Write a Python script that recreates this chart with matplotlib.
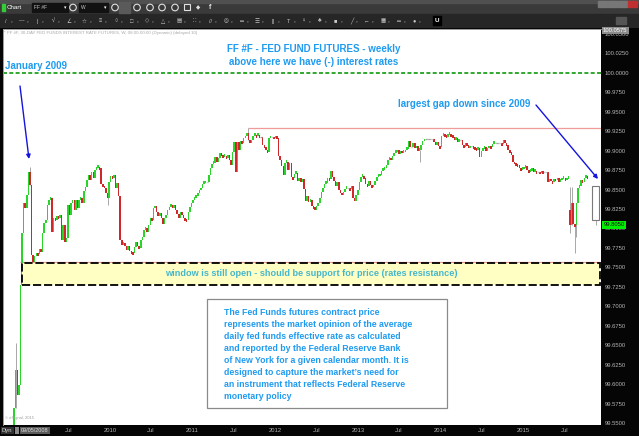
import numpy as np
import pandas as pd
import matplotlib
matplotlib.use("Agg")
import matplotlib.pyplot as plt
import matplotlib.dates as mdates
import matplotlib.transforms as mtrans
from matplotlib.patches import Rectangle, Circle

plt.rcParams["font.family"] = ["Liberation Sans", "DejaVu Sans"]

W, H = 639, 436

# weekly closes, FF #F continuous contract
FIRST_WEEK = "2008-11-03"
FIRST_OPEN = 99.547
CLOSES = [
    99.569, 99.618, 99.586, 99.599, 99.727, 99.794, 99.833, 99.826, 99.843, 99.873,
    99.856, 99.766, 99.757, 99.765, 99.768, 99.767, 99.774, 99.770, 99.794, 99.807,
    99.811, 99.830, 99.837, 99.839, 99.795, 99.813, 99.811, 99.816, 99.813, 99.817,
    99.785, 99.804, 99.783, 99.788, 99.830, 99.817, 99.833, 99.837, 99.824, 99.837,
    99.826, 99.837, 99.839, 99.833, 99.848, 99.853, 99.862, 99.869, 99.862, 99.873,
    99.865, 99.875, 99.878, 99.879, 99.878, 99.857, 99.855, 99.852, 99.846, 99.839,
    99.860, 99.867, 99.865, 99.869, 99.852, 99.858, 99.842, 99.785, 99.779, 99.781,
    99.777, 99.772, 99.777, 99.771, 99.770, 99.768, 99.776, 99.783, 99.777, 99.775,
    99.785, 99.789, 99.798, 99.801, 99.795, 99.804, 99.813, 99.811, 99.826, 99.829,
    99.821, 99.816, 99.820, 99.813, 99.806, 99.813, 99.817, 99.824, 99.828, 99.830,
    99.826, 99.830, 99.824, 99.819, 99.813, 99.821, 99.817, 99.813, 99.812, 99.811,
    99.821, 99.828, 99.833, 99.837, 99.839, 99.842, 99.846, 99.849, 99.852, 99.857,
    99.858, 99.860, 99.860, 99.869, 99.878, 99.883, 99.884, 99.892, 99.885, 99.891,
    99.897, 99.894, 99.892, 99.893, 99.891, 99.894, 99.888, 99.882, 99.898, 99.911,
    99.873, 99.911, 99.901, 99.912, 99.910, 99.916, 99.919, 99.923, 99.914, 99.910,
    99.914, 99.919, 99.920, 99.919, 99.920, 99.918, 99.918, 99.907, 99.905, 99.901,
    99.898, 99.916, 99.918, 99.918, 99.916, 99.919, 99.916, 99.893, 99.888, 99.880,
    99.869, 99.884, 99.885, 99.875, 99.884, 99.866, 99.865, 99.870, 99.871, 99.861,
    99.865, 99.860, 99.864, 99.851, 99.835, 99.842, 99.834, 99.837, 99.829, 99.828,
    99.824, 99.829, 99.833, 99.839, 99.847, 99.852, 99.857, 99.858, 99.865, 99.864,
    99.874, 99.866, 99.861, 99.855, 99.860, 99.849, 99.846, 99.843, 99.847, 99.851,
    99.852, 99.852, 99.851, 99.855, 99.839, 99.835, 99.843, 99.849, 99.860, 99.866,
    99.867, 99.865, 99.857, 99.855, 99.861, 99.856, 99.853, 99.856, 99.861, 99.866,
    99.867, 99.869, 99.874, 99.875, 99.878, 99.882, 99.888, 99.891, 99.888, 99.893,
    99.897, 99.898, 99.901, 99.896, 99.900, 99.897, 99.898, 99.901, 99.902, 99.912,
    99.905, 99.905, 99.910, 99.903, 99.906, 99.900, 99.901, 99.907, 99.912, 99.915,
    99.915, 99.915, 99.915, 99.915, 99.915, 99.911, 99.907, 99.911, 99.906, 99.905,
    99.919, 99.921, 99.920, 99.918, 99.920, 99.921, 99.920, 99.918, 99.914, 99.916,
    99.911, 99.914, 99.914, 99.907, 99.905, 99.910, 99.907, 99.903, 99.906, 99.906,
    99.905, 99.903, 99.901, 99.903, 99.892, 99.900, 99.902, 99.905, 99.900, 99.903,
    99.906, 99.905, 99.909, 99.910, 99.910, 99.910, 99.910, 99.910, 99.909, 99.914,
    99.910, 99.907, 99.901, 99.898, 99.894, 99.886, 99.884, 99.883, 99.882, 99.878,
    99.875, 99.876, 99.878, 99.880, 99.875, 99.873, 99.874, 99.878, 99.873, 99.874,
    99.873, 99.873, 99.871, 99.874, 99.873, 99.873, 99.873, 99.860, 99.864, 99.861,
    99.860, 99.864, 99.862, 99.865, 99.860, 99.862, 99.864, 99.865, 99.862, 99.864,
    99.865, 99.804, 99.833, 99.806, 99.805, 99.833, 99.852, 99.855, 99.862, 99.860,
    99.865, 99.867, 99.866,
]
GAP_OPENS = {351: 99.824}          # the Aug 2015 gap down
WICKS = {1: (99.653, None), 10: (99.879, None), 59: (None, 99.830),
         148: (99.929, None), 256: (None, 99.885), 351: (99.853, 99.794),
         352: (99.853, None), 354: (None, 99.768), 355: (None, 99.789)}
LAST_BAR_DATES = ("2015-11-02", "2015-12-03")
LAST_BAR = (99.811, 99.855, 99.804)   # body low, body high, wick low
LAST_PRICE = 99.805
WINDOW = (99.727, 99.756)
ZERO_RATE = 100.0

YTICKS = np.arange(99.55, 100.0501, 0.025)
XTICKS = ["2009-07-01", "2010-01-01", "2010-07-01", "2011-01-01", "2011-07-01",
          "2012-01-01", "2012-07-01", "2013-01-01", "2013-07-01", "2014-01-01",
          "2014-07-01", "2015-01-01", "2015-07-01"]
XLIM = ("2008-09-15", "2015-12-11")
YLIM = (99.5474, 100.0564)

NOTE = ["The Fed Funds futures contract price",
        "represents the market opinion of the average",
        "daily fed funds effective rate as calculated",
        "and reported by the Federal Reserve Bank",
        "of New York for a given calendar month. It is",
        "designed to capture the market\u2019s need for",
        "an instrument that reflects Federal Reserve",
        "monetary policy"]

BLUE = "#1f9bf0"
ARROW = "#1414e0"
GREEN = "#2bd42b"
RED = "#d02828"


def fx(x):
    return x / W


def fy(y):
    return 1 - y / H


fig = plt.figure(figsize=(W / 100, H / 100), dpi=100, facecolor="#050505")

# ---- toolbar -------------------------------------------------------------
tb = fig.add_axes([0, fy(28), 1, 28 / H])
tb.set_xlim(0, W)
tb.set_ylim(28, 0)
tb.axis("off")
tb.add_patch(Rectangle((0, 0), W, 14, color="#3a3a3a"))
tb.add_patch(Rectangle((0, 0), W, 3, color="#505050"))
tb.add_patch(Rectangle((0, 14), W, 14, color="#262626"))
tb.add_patch(Rectangle((2, 4), 2.5, 7, color="#33cc33"))
tb.text(7, 7.5, "Chart", color="white", fontsize=4.5, va="center")
for x0, w, s in [(32, 36, "FF #F"), (79, 29, "W")]:
    tb.add_patch(Rectangle((x0, 3), w, 9, color="#121212"))
    tb.text(x0 + 2, 7.5, s, color="#cccccc", fontsize=3.5, va="center")
    tb.text(x0 + w - 4, 7.5, "\u25be", color="white", fontsize=3.5, va="center")
tb.add_patch(Rectangle((119, 2), 11, 11, color="#5a5a5a"))
for cx in [73, 115, 137, 150, 162, 175]:
    tb.add_patch(Circle((cx, 7.5), 3.3, fill=False, ec="#e0e0e0", lw=0.8))
tb.add_patch(Rectangle((184, 4), 6, 6, fill=False, ec="#e0e0e0", lw=0.8))
tb.text(198, 7.5, "\u25c6", color="#e0e0e0", fontsize=4, va="center", ha="center")
tb.text(210, 7.5, "f", color="#e0e0e0", fontsize=5, va="center", ha="center",
        weight="bold")
icons = ["/", "\u2014", "|", "\u221a", "\u2220", "\u2606", "\u2261", "\u25cb", "\u25a1",
         "\u25c7", "\u25b3", "\u25a4", "\u2237", "//", "\u25ce", "\u2550", "\u2630",
         "||", "T", "\u2640", "\u2663", "\u25a0", "\u2571", "\u2190", "\u25a6", "\u2550",
         "\u25cf"]
for i, s in enumerate(icons):
    tb.text(6 + i * 15.7, 21, s, color="#c8c8c8", fontsize=4, va="center", ha="center")
    tb.text(11 + i * 15.7, 22.5, "\u25be", color="#888888", fontsize=2.5, va="center")
tb.add_patch(Rectangle((433, 16), 8, 9, color="black"))
tb.text(437, 20.5, "U", color="white", fontsize=4.5, va="center", ha="center",
        weight="bold")
for i, c in enumerate(["#777777", "#777777", "#777777", "#c03030"]):
    tb.add_patch(Rectangle((598 + i * 10, 1), 8.5, 6.5, color=c))
tb.add_patch(Rectangle((616, 17), 10, 7, color="#555555"))

# ---- price chart ---------------------------------------------------------
ax = fig.add_axes([fx(3), fy(425), 598 / W, 396 / H], facecolor="white")
dates = pd.date_range(FIRST_WEEK, periods=len(CLOSES), freq="7D")
xd = mdates.date2num(dates.to_pydatetime())
closes = np.array(CLOSES)
opens = np.r_[FIRST_OPEN, closes[:-1]]
for k, v in GAP_OPENS.items():
    opens[k] = v
body = closes - opens
doji = np.abs(body) < 0.0005
hgt = np.sign(body) * np.maximum(np.abs(body), 0.0035)

for k, (hi, lo) in WICKS.items():
    top = hi if hi is not None else max(opens[k], closes[k])
    bot = lo if lo is not None else min(opens[k], closes[k])
    ax.vlines(xd[k], bot, top, color="#9a9a9a", lw=0.6, zorder=2)

up = (body > 0) & ~doji
dn = (body < 0) & ~doji
ax.bar(xd[up], hgt[up], bottom=opens[up], width=6.6, color=GREEN, lw=0, zorder=3)
ax.bar(xd[dn], hgt[dn], bottom=opens[dn], width=6.6, color=RED, lw=0, zorder=3)
ax.hlines(closes[doji], xd[doji] - 3, xd[doji] + 3, color="#a0a0a0", lw=0.9, zorder=3)

# current (incomplete) bar, drawn hollow
lb0, lb1 = mdates.date2num(pd.to_datetime(list(LAST_BAR_DATES)).to_pydatetime())
ax.vlines((lb0 + lb1) / 2, LAST_BAR[2], LAST_BAR[0], color="#9a9a9a", lw=0.6)
ax.add_patch(Rectangle((lb0, LAST_BAR[0]), lb1 - lb0, LAST_BAR[1] - LAST_BAR[0],
                       fc="white", ec="#7a7a7a", lw=0.8, zorder=3))

# levels
ax.axhline(ZERO_RATE, color="#1fa01f", lw=1.3, ls=(0, (2.2, 1.3)), zorder=2)
top_high = WICKS[148][0]
ax.hlines(top_high, xd[148], xd[-1] + 60, color="#f09a9a", lw=0.9, zorder=1)
low_close = min(CLOSES[5:])
ax.hlines(low_close, xd[4], xd[-1] + 60, color="#f09a9a", lw=0.9, zorder=1)
blend = mtrans.blended_transform_factory(ax.transAxes, ax.transData)
ax.add_patch(Rectangle((19 / 598, WINDOW[0]), 578 / 598, WINDOW[1] - WINDOW[0],
                       transform=blend, fc="#ffffc4", ec="black", lw=1.3,
                       ls=(0, (4.5, 1.6)), zorder=4))

ax.set_xlim(*mdates.date2num(pd.to_datetime(list(XLIM)).to_pydatetime()))
ax.set_ylim(*YLIM)
ax.yaxis.tick_right()
ax.set_yticks(YTICKS)
ax.set_yticklabels([f"{v:.4f}" for v in YTICKS])
xt = pd.to_datetime(XTICKS)
ax.set_xticks(mdates.date2num(xt.to_pydatetime()))
ax.set_xticklabels(["Jul" if d.month == 7 else str(d.year) for d in xt])
ax.tick_params(axis="both", length=0, labelsize=4.2, labelcolor="#b4b4b4")
ax.tick_params(axis="y", pad=2.5)
ax.tick_params(axis="x", pad=2.2)
for s in ["right", "bottom"]:
    ax.spines[s].set_visible(False)
for s in ["left", "top"]:
    ax.spines[s].set_color("#9a9a9a")
    ax.spines[s].set_linestyle((0, (1, 1)))
    ax.spines[s].set_linewidth(0.7)

# right-scale markers
ax.text(1.004, LAST_PRICE, f"{LAST_PRICE:.4f}", transform=blend, fontsize=4.2,
        va="center", ha="left", color="#111111",
        bbox=dict(boxstyle="square,pad=0.25", fc="#00ee00", ec="none"))
fig.text(fx(603), fy(30.5), "100.0575", fontsize=4.2, va="center", color="white",
         bbox=dict(boxstyle="square,pad=0.2", fc="#8c8c8c", ec="none"))

# bottom bar bits
fig.text(fx(2), fy(430.5), "Dyn", fontsize=4.2, va="center", color="#dddddd",
         bbox=dict(boxstyle="square,pad=0.2", fc="#303030", ec="none"))
fig.add_artist(Rectangle((fx(14.5), fy(434)), 4.5 / W, 7 / H, fc="#8a8a8a", ec="none"))
fig.text(fx(21), fy(430.5), "09/05/2008", fontsize=4.0, va="center", color="#dddddd",
         bbox=dict(boxstyle="square,pad=0.2", fc="#5a5a5a", ec="none"))

# header and copyright
fig.text(fx(4), fy(33), "* FF #F, 30-DAY FED FUNDS INTEREST RATE FUTURES, W, "
         "08:00-00:00 (Dynamic) (delayed 10)", fontsize=3.2, color="#a8a8a8",
         va="center")
fig.text(fx(5), fy(418), "\u00a9 eSignal, 2015", fontsize=3.0, color="#a0a0a0",
         va="center")

# annotations
fig.text(fx(314), fy(49), "FF #F - FED FUND FUTURES - weekly", fontsize=7,
         weight="bold", color=BLUE, ha="center", va="center")
fig.text(fx(314), fy(62), "above here we have (-) interest rates", fontsize=7,
         weight="bold", color=BLUE, ha="center", va="center")
fig.text(fx(5), fy(66), "January 2009", fontsize=7, weight="bold", color=BLUE,
         va="center")
fig.text(fx(398), fy(104), "largest gap down since 2009", fontsize=7,
         weight="bold", color=BLUE, va="center")
fig.text(fx(311), fy(274), "window is still open - should be support for price "
         "(rates resistance)", fontsize=6.6, weight="bold", color="#45b7cc",
         ha="center", va="center", zorder=6)

arrow = dict(arrowstyle="-|>", color=ARROW, lw=1.0, mutation_scale=6,
             shrinkA=0, shrinkB=0)
ax.annotate("", xy=(fx(29), fy(159)), xytext=(fx(20), fy(86)),
            xycoords="figure fraction", textcoords="figure fraction",
            arrowprops=arrow, zorder=6)
ax.annotate("", xy=(fx(598), fy(179)), xytext=(fx(536), fy(105)),
            xycoords="figure fraction", textcoords="figure fraction",
            arrowprops=arrow, zorder=6)

# explanatory note box
fig.add_artist(Rectangle((fx(207), fy(408)), 240 / W, 109 / H, fc="white",
                         ec="#8a8a8a", lw=0.9, zorder=5))
for i, line in enumerate(NOTE):
    fig.text(fx(224), fy(312.5 + i * 11.93), line, fontsize=6.3, weight="bold",
             color=BLUE, va="center", zorder=6)

fig.savefig("out.png", dpi=100, facecolor=fig.get_facecolor())
